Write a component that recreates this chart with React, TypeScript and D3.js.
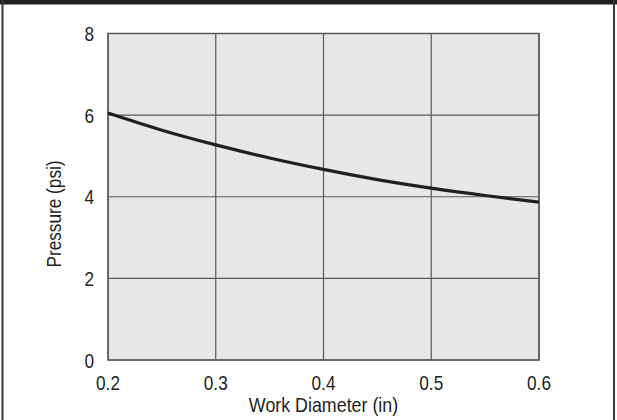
import React from "react";
import * as d3 from "d3";

const diameters = [0.2, 0.25, 0.3, 0.35, 0.4, 0.45, 0.5, 0.55, 0.6];
const pressures = [6.05, 5.63, 5.27, 4.95, 4.67, 4.42, 4.21, 4.03, 3.87];
const xTicks = [0.2, 0.3, 0.4, 0.5, 0.6];
const yTicks = [0, 2, 4, 6, 8];
const xTitle = "Work Diameter (in)";
const yTitle = "Pressure (psi)";

const W = 617;
const H = 420;
const M = { left: 108, right: 539, top: 33.5, bottom: 360 };
const FONT = "'Liberation Sans', Arial, sans-serif";
const FS = 21;
const SX = 0.82;

function Label(props: {
  x: number;
  y: number;
  anchor: string;
  rotate?: number;
  dy?: string;
  sx?: number;
  children: React.ReactNode;
}) {
  const r = props.rotate ? ` rotate(${props.rotate})` : "";
  return (
    <g transform={`translate(${props.x},${props.y})${r} scale(${props.sx ?? SX},1)`}>
      <text
        x={0}
        y={0}
        dy={props.dy}
        textAnchor={props.anchor}
        fontFamily={FONT}
        fontSize={FS}
        fill="#231f20"
      >
        {props.children}
      </text>
    </g>
  );
}

export default function App() {
  const x = d3.scaleLinear().domain([0.2, 0.6]).range([M.left, M.right]);
  const y = d3.scaleLinear().domain([0, 8]).range([M.bottom, M.top]);
  const data = diameters.map((d, i) => [d, pressures[i]] as [number, number]);
  const line = d3
    .line<[number, number]>()
    .x((d) => x(d[0]))
    .y((d) => y(d[1]))
    .curve(d3.curveMonotoneX);

  return (
    <svg
      width={W}
      height={H}
      style={{ position: "absolute", left: 0, top: 0, background: "#fff" }}
    >
      {/* frame */}
      <rect x={0} y={0} width={W} height={4.5} fill="#231f20" />
      <line x1={2.5} x2={2.5} y1={0} y2={H} stroke="#3a3a3a" strokeWidth={2} />
      <line x1={614} x2={614} y1={0} y2={H} stroke="#3a3a3a" strokeWidth={2} />

      {/* plot background */}
      <rect
        x={M.left}
        y={M.top}
        width={M.right - M.left}
        height={M.bottom - M.top}
        fill="#e6e7e8"
      />
      {/* grid */}
      {xTicks.map((t) => (
        <line
          key={"gx" + t}
          x1={x(t)}
          x2={x(t)}
          y1={M.top}
          y2={M.bottom}
          stroke="#58595b"
          strokeWidth={1.2}
        />
      ))}
      {yTicks.map((t) => (
        <line
          key={"gy" + t}
          x1={M.left}
          x2={M.right}
          y1={y(t)}
          y2={y(t)}
          stroke="#58595b"
          strokeWidth={1.2}
        />
      ))}
      <rect
        x={M.left}
        y={M.top}
        width={M.right - M.left}
        height={M.bottom - M.top}
        fill="none"
        stroke="#58595b"
        strokeWidth={1.5}
      />

      {/* curve */}
      <path d={line(data) || ""} fill="none" stroke="#231f20" strokeWidth={3.2} />

      {/* tick labels */}
      {yTicks.map((t) => (
        <Label key={"ty" + t} x={94} y={y(t)} dy="0.36em" anchor="end">
          {t}
        </Label>
      ))}
      {xTicks.map((t) => (
        <Label key={"tx" + t} x={x(t)} y={390} anchor="middle">
          {t.toFixed(1)}
        </Label>
      ))}

      {/* axis titles */}
      <Label x={(M.left + M.right) / 2} y={412} anchor="middle" sx={0.85}>
        {xTitle}
      </Label>
      <Label x={61} y={214} rotate={-90} anchor="middle">
        {yTitle}
      </Label>
    </svg>
  );
}
